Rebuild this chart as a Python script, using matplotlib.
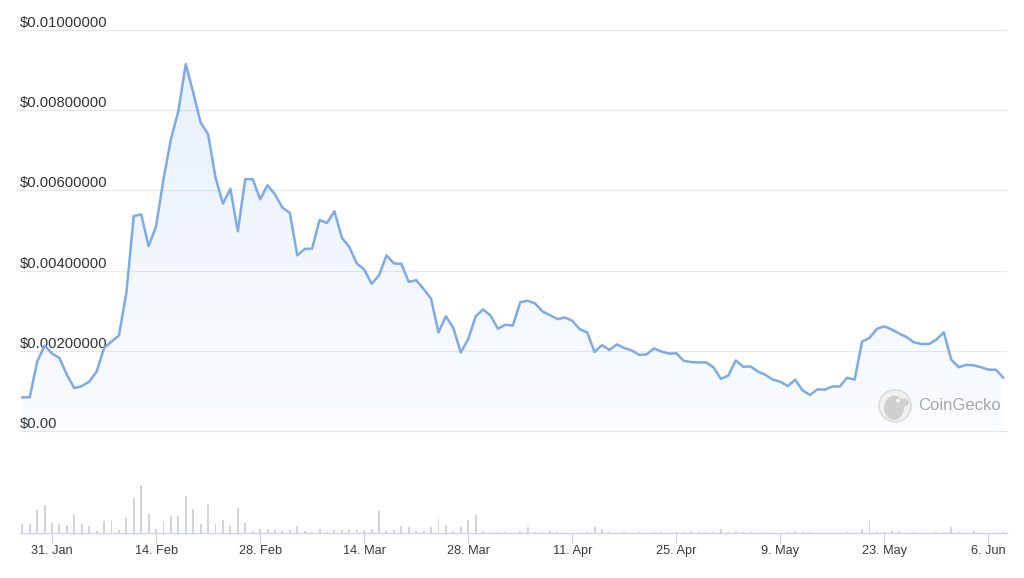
import numpy as np
import pandas as pd
import matplotlib
matplotlib.use('Agg')
import matplotlib.pyplot as plt
import matplotlib.dates as mdates
from matplotlib.colors import to_rgb
from matplotlib.patches import Circle, Ellipse

plt.rcParams['font.family'] = ['Liberation Sans', 'DejaVu Sans']

# Daily price (USD), starting 27 Jan
start_date = '2022-01-27'
price = [
    0.00084, 0.00084, 0.00173, 0.00213, 0.00193, 0.00182, 0.00140, 0.00107, 0.00112, 0.00123,
    0.00148, 0.00207, 0.00223, 0.00238, 0.00344, 0.00536, 0.00540, 0.00461, 0.00511, 0.00628,
    0.00728, 0.00798, 0.00915, 0.00844, 0.00769, 0.00740, 0.00632, 0.00567, 0.00604, 0.00498,
    0.00628, 0.00628, 0.00578, 0.00613, 0.00590, 0.00557, 0.00544, 0.00438, 0.00454, 0.00455,
    0.00526, 0.00519, 0.00548, 0.00482, 0.00459, 0.00418, 0.00403, 0.00367, 0.00388, 0.00438,
    0.00418, 0.00417, 0.00372, 0.00376, 0.00354, 0.00330, 0.00246, 0.00286, 0.00257, 0.00196,
    0.00229, 0.00286, 0.00303, 0.00288, 0.00255, 0.00265, 0.00263, 0.00321, 0.00325, 0.00318,
    0.00298, 0.00289, 0.00279, 0.00283, 0.00275, 0.00254, 0.00246, 0.00197, 0.00214, 0.00202,
    0.00216, 0.00207, 0.00201, 0.00190, 0.00191, 0.00206, 0.00198, 0.00193, 0.00194, 0.00175,
    0.00172, 0.00171, 0.00171, 0.00159, 0.00130, 0.00138, 0.00176, 0.00160, 0.00161, 0.00148,
    0.00140, 0.00128, 0.00123, 0.00112, 0.00128, 0.00101, 0.00090, 0.00104, 0.00103, 0.00111,
    0.00111, 0.00133, 0.00128, 0.00223, 0.00232, 0.00255, 0.00261, 0.00253, 0.00243, 0.00234,
    0.00221, 0.00217, 0.00217, 0.00228, 0.00246, 0.00178, 0.00159, 0.00165, 0.00164, 0.00159,
    0.00153, 0.00153, 0.00133,
]

# Daily volume (relative units)
volume = [
    9.3, 9.3, 23, 28, 10.7, 9.3, 8.3, 18.3, 9.3, 7.3,
    2.3, 12, 13.3, 3.3, 15.7, 35.3, 48.3, 19, 4.7, 12,
    17, 17, 37.3, 24.3, 9.3, 29, 9.3, 13.3, 7.3, 25.3,
    10.7, 2.3, 4.7, 4.7, 3, 2.3, 3.3, 7.3, 2.3, 1.3,
    4.7, 1.7, 3.3, 3, 4.7, 3.3, 3.3, 4.7, 22, 2.7,
    3.3, 7.3, 6, 2.3, 2.3, 6, 14.3, 8.3, 2.3, 6,
    13.3, 18, 2.3, 1.3, 1.3, 1.3, 0, 2.3, 6, 1.3,
    1.3, 2.3, 1.3, 0, 0, 0, 1, 6, 4.7, 1.3,
    0, 1.3, 0, 1.3, 0, 1.3, 1.3, 0, 1.3, 1.3,
    2.3, 1.3, 1.3, 1.3, 4.7, 1.3, 2.3, 1.3, 1.3, 0,
    1.3, 0, 0, 1.3, 2.3, 1.3, 1.3, 0, 0, 0,
    0, 1.3, 0, 4.7, 12.3, 1.3, 1.3, 2.3, 2.3, 0,
    1.3, 0, 0, 1.3, 1.3, 6.3, 1.3, 0, 2.3, 0,
    0, 0, 1.3,
]

tick_dates = ['2022-01-31', '2022-02-14', '2022-02-28', '2022-03-14', '2022-03-28',
              '2022-04-11', '2022-04-25', '2022-05-09', '2022-05-23', '2022-06-06']
tick_labels = ['31. Jan', '14. Feb', '28. Feb', '14. Mar', '28. Mar',
               '11. Apr', '25. Apr', '9. May', '23. May', '6. Jun']
y_ticks = [0, 0.002, 0.004, 0.006, 0.008, 0.010]
y_labels = ['$0.00', '$0.00200000', '$0.00400000', '$0.00600000', '$0.00800000', '$0.01000000']

line_color = '#7cabe8'

dates = pd.date_range(start_date, periods=len(price), freq='D')
x = mdates.date2num(dates)
xlim = (x[0] - 0.31, x[0] + 132.5)

fig = plt.figure(figsize=(10.24, 5.78), dpi=100)
ax = fig.add_axes([20 / 1024, 1 - 431 / 578, 987 / 1024, 401 / 578])
axv = fig.add_axes([20 / 1024, 1 - 533.3 / 578, 987 / 1024, 80 / 578])

# price line with gradient fill
poly = ax.fill_between(x, price, 0, color='none', lw=0)
grad = np.zeros((256, 1, 4))
grad[:, 0, :3] = to_rgb(line_color)
grad[:, 0, 3] = np.linspace(0.04, 0.17, 256)
im = ax.imshow(grad, extent=[x[0], x[-1], 0, max(price)], aspect='auto',
               origin='lower', zorder=1, interpolation='bilinear')
im.set_clip_path(poly.get_paths()[0], transform=ax.transData)
ax.plot(x, price, color=line_color, lw=1.8, solid_joinstyle='round', zorder=3)

ax.set_xlim(xlim)
ax.set_ylim(0, 0.01)
ax.set_yticks(y_ticks)
ax.set_yticklabels(y_labels)
ax.set_xticks([])
for s in ax.spines.values():
    s.set_visible(False)
ax.grid(axis='y', color='#e9e9e9', lw=0.8)
ax.axhline(0, color='#e6e6e6', lw=0.8, clip_on=False, zorder=0.5)
ax.set_axisbelow(True)
ax.tick_params(axis='y', length=0, pad=0, labelsize=10.6, labelcolor='#333333')
plt.setp(ax.get_yticklabels(), ha='left', va='bottom')

# volume bars
axv.bar(x, volume, width=0.26, color='#d3d3d8', zorder=2)
axv.set_xlim(xlim)
axv.set_ylim(0, 80)
axv.set_yticks([])
for k in ['top', 'left', 'right']:
    axv.spines[k].set_visible(False)
axv.spines['bottom'].set_color('#ccd6eb')
axv.spines['bottom'].set_linewidth(1)
axv.set_xticks(mdates.date2num(pd.to_datetime(tick_dates)))
axv.set_xticklabels(tick_labels)
axv.tick_params(axis='x', length=7.2, width=1, color='#ccd6eb', pad=1.5,
                labelsize=9.2, labelcolor='#3a3a3a')
axv.patch.set_alpha(0)

# CoinGecko watermark
cx, cy = 8.95, (578 - 405.7) / 100
fig.patches.append(Circle((cx, cy), 0.16, transform=fig.dpi_scale_trans,
                          facecolor='#f1f1f1', edgecolor='#dcdcdc', lw=1.2))
fig.patches.append(Ellipse((cx - 0.01, cy - 0.02), 0.2, 0.24, transform=fig.dpi_scale_trans,
                           facecolor='#cfcfcf', edgecolor='none'))
fig.patches.append(Ellipse((cx + 0.08, cy + 0.03), 0.12, 0.08, transform=fig.dpi_scale_trans,
                           facecolor='#cfcfcf', edgecolor='none'))
fig.patches.append(Circle((cx + 0.03, cy + 0.05), 0.02, transform=fig.dpi_scale_trans,
                          facecolor='#f4f4f4', edgecolor='none'))
fig.text(918 / 1024, 1 - 405.7 / 578, 'CoinGecko', ha='left', va='center',
         fontsize=12, color='#a8a8a8')

fig.savefig('out.png', dpi=100)
